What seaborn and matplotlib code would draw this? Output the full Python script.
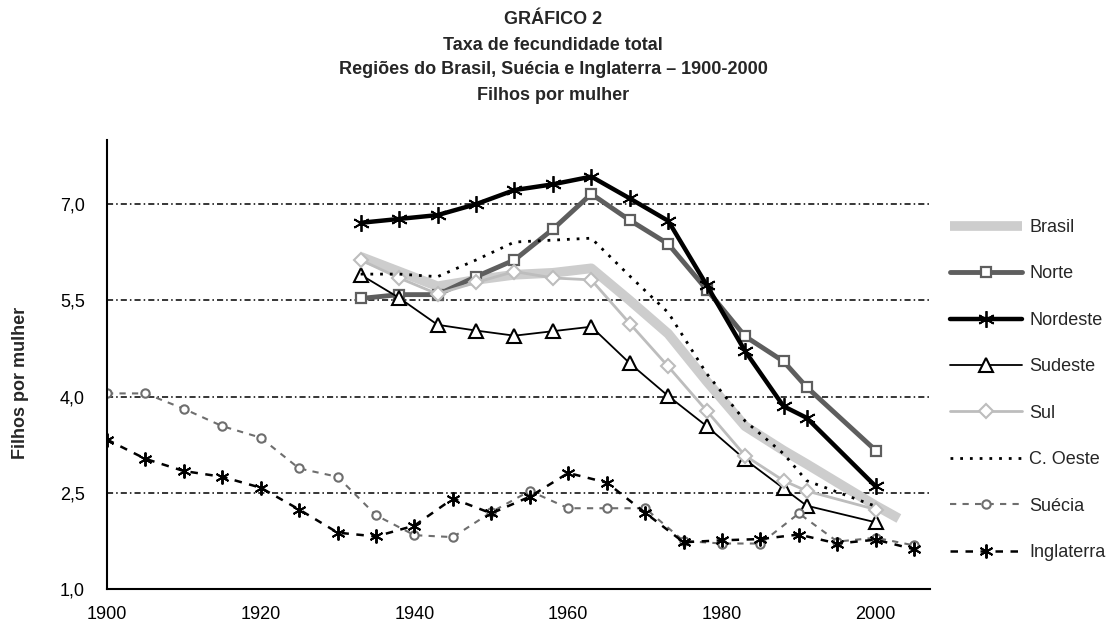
import matplotlib
matplotlib.use("Agg")
import matplotlib.pyplot as plt
import seaborn as sns

# DADOS
anos_regioes = [1933, 1938, 1943, 1948, 1953, 1958, 1963, 1968, 1973, 1978, 1983, 1988, 1991, 2000]
anos_brasil = [1933, 1938, 1943, 1948, 1953, 1958, 1963, 1968, 1973, 1978, 1983, 1988, 1991, 2000, 2003]
anos_europa = [1900, 1905, 1910, 1915, 1920, 1925, 1930, 1935, 1940, 1945, 1950,
               1955, 1960, 1965, 1970, 1975, 1980, 1985, 1990, 1995, 2000, 2005]

brasil = [6.18, 5.95, 5.72, 5.82, 5.90, 5.93, 6.00, 5.50, 4.98, 4.24, 3.54, 3.16, 2.95, 2.30, 2.10]
norte = [5.53, 5.59, 5.59, 5.87, 6.13, 6.61, 7.16, 6.75, 6.38, 5.67, 4.94, 4.55, 4.15, 3.16]
nordeste = [6.71, 6.77, 6.83, 7.00, 7.22, 7.31, 7.43, 7.09, 6.74, 5.74, 4.71, 3.85, 3.67, 2.60]
sudeste = [5.90, 5.54, 5.12, 5.03, 4.95, 5.02, 5.09, 4.52, 4.01, 3.54, 3.02, 2.57, 2.30, 2.04]
sul = [6.13, 5.85, 5.60, 5.78, 5.95, 5.85, 5.82, 5.14, 4.47, 3.78, 3.08, 2.69, 2.53, 2.24]
centro_oeste = [5.91, 5.91, 5.87, 6.13, 6.41, 6.44, 6.47, 5.88, 5.31, 4.36, 3.62, 3.11, 2.69, 2.29]
suecia = [4.05, 4.05, 3.81, 3.54, 3.36, 2.88, 2.75, 2.15, 1.84, 1.81, 2.20,
          2.53, 2.26, 2.26, 2.26, 1.75, 1.71, 1.71, 2.18, 1.74, 1.80, 1.68]
inglaterra = [3.33, 3.03, 2.84, 2.75, 2.58, 2.24, 1.88, 1.82, 1.99, 2.41, 2.18,
              2.44, 2.81, 2.66, 2.19, 1.73, 1.76, 1.78, 1.85, 1.71, 1.77, 1.62]

y_ticks = [1.0, 2.5, 4.0, 5.5, 7.0]
y_tick_labels = ['1,0', '2,5', '4,0', '5,5', '7,0']
x_ticks = [1900, 1920, 1940, 1960, 1980, 2000]

titulos = ['GRÁFICO 2',
           'Taxa de fecundidade total',
           'Regiões do Brasil, Suécia e Inglaterra – 1900-2000',
           'Filhos por mulher']

asterisco = (6, 2, 0)

series = [
    ('Brasil', anos_brasil, brasil,
     dict(color='#cdcdcd', lw=7, solid_capstyle='butt')),
    ('Norte', anos_regioes, norte,
     dict(color='#5e5e5e', lw=3.5, marker='s', markersize=7,
          markerfacecolor='white', markeredgecolor='#5e5e5e', markeredgewidth=1.6)),
    ('Nordeste', anos_regioes, nordeste,
     dict(color='black', lw=3.2, marker=asterisco, markersize=12,
          markeredgecolor='black', markeredgewidth=1.3)),
    ('Sudeste', anos_regioes, sudeste,
     dict(color='black', lw=1.3, marker='^', markersize=10,
          markerfacecolor='white', markeredgecolor='black', markeredgewidth=1.5)),
    ('Sul', anos_regioes, sul,
     dict(color='#bdbdbd', lw=2.0, marker='D', markersize=7,
          markerfacecolor='white', markeredgecolor='#bdbdbd', markeredgewidth=1.5)),
    ('C. Oeste', anos_regioes, centro_oeste,
     dict(color='black', lw=2.0, linestyle=(0, (1, 2.5)))),
    ('Suécia', anos_europa, suecia,
     dict(color='#6e6e6e', lw=1.5, linestyle=(0, (3, 3)), marker='o', markersize=6,
          markerfacecolor='white', markeredgecolor='#6e6e6e', markeredgewidth=1.5)),
    ('Inglaterra', anos_europa, inglaterra,
     dict(color='black', lw=1.8, linestyle=(0, (3, 3)), marker=asterisco, markersize=10,
          markeredgecolor='black', markeredgewidth=1.4)),
]

sns.set_style('white')
plt.rcParams['font.family'] = ['Liberation Sans', 'DejaVu Sans']

fig, ax = plt.subplots(figsize=(11.2, 6.28), dpi=100)
fig.subplots_adjust(left=0.0955, right=0.830, bottom=0.062, top=0.777)

for nome, anos, valores, estilo in series:
    sns.lineplot(x=anos, y=valores, ax=ax, errorbar=None, sort=False,
                 label=nome, **estilo)

ax.set_xlim(1900, 2007)
ax.set_ylim(1.0, 8.0)
ax.set_xticks(x_ticks)
ax.set_yticks(y_ticks)
ax.set_yticklabels(y_tick_labels)

ax.set_axisbelow(True)
ax.yaxis.grid(True, color='black', linestyle=(0, (4, 2, 1, 2)), linewidth=1.1)
ax.xaxis.grid(False)

for lado in ['top', 'right']:
    ax.spines[lado].set_visible(False)
for lado in ['left', 'bottom']:
    ax.spines[lado].set_color('black')
    ax.spines[lado].set_linewidth(1.5)

ax.tick_params(axis='x', direction='inout', length=12, width=1.3, labelsize=13, pad=6, colors='black')
ax.tick_params(axis='y', length=0, labelsize=13, pad=16, colors='black')

ax.set_xlabel('')
ax.set_ylabel('Filhos por mulher', fontsize=13, fontweight='bold')
ax.yaxis.set_label_coords(-0.095, 0.46)

for i, texto in enumerate(titulos):
    fig.text(0.494, 1 - (20 + 25 * i) / 628, texto, ha='center', va='center',
             fontsize=13, fontweight='bold')

ax.legend(loc='upper left', bbox_to_anchor=(950 / 1120, (628 - 219) / 628),
          bbox_transform=fig.transFigure, frameon=False, fontsize=13,
          handlelength=4.0, handletextpad=0.4, labelspacing=1.63,
          borderpad=0, borderaxespad=0, numpoints=1)

fig.savefig('out.png', dpi=100)
